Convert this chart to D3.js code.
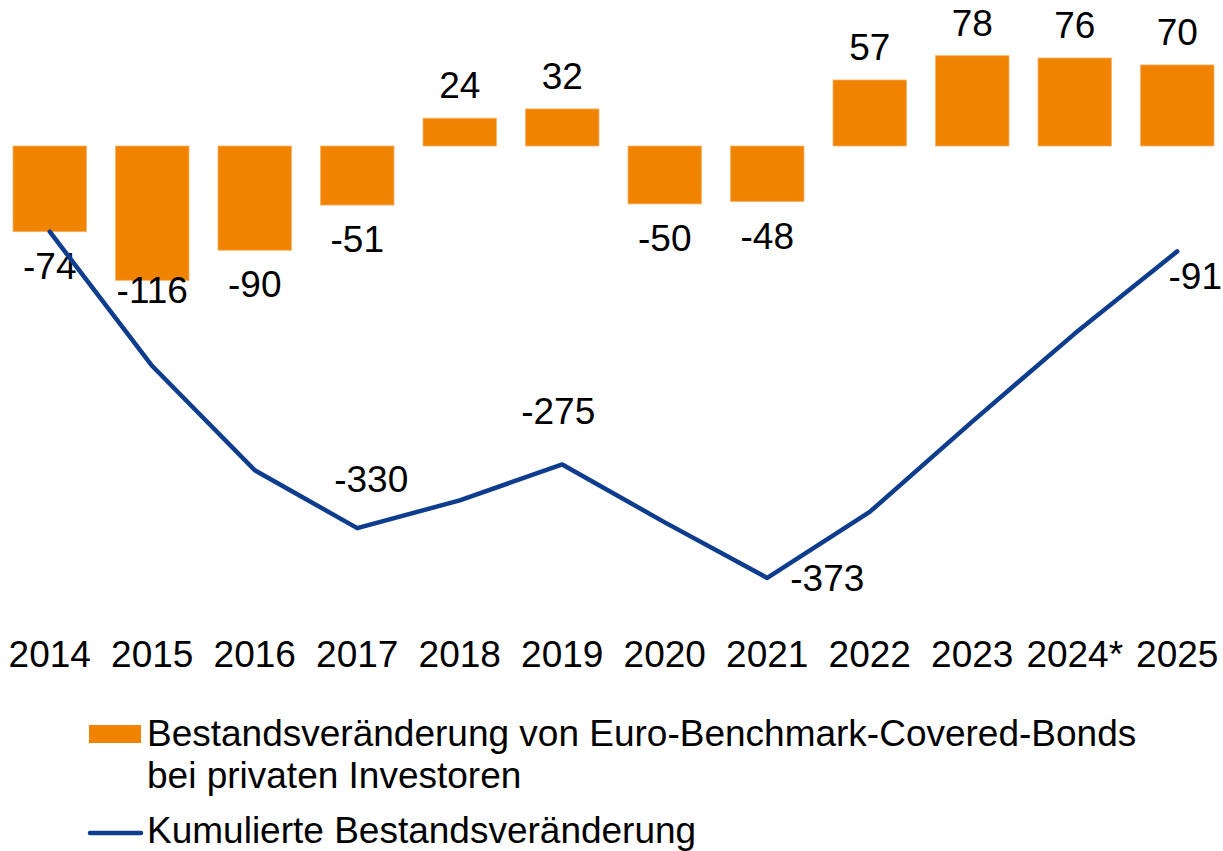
<!DOCTYPE html>
<html>
<head>
<meta charset="utf-8">
<script src="https://cdn.jsdelivr.net/npm/d3@7"></script>
<style>
  body { margin: 0; background: #fff; }
  svg { display: block; font-family: "Liberation Sans", Arial, sans-serif; }
</style>
</head>
<body>
<svg id="chart"></svg>
<script>
// data
var years = ["2014","2015","2016","2017","2018","2019","2020","2021","2022","2023","2024*","2025"];
var changes = [-74, -116, -90, -51, 24, 32, -50, -48, 57, 78, 76, 70];
var cumulative = [-74, -190, -280, -330, -306, -275, -325, -373, -316, -238, -162, -91];
// only some points of the line carry a label
var lineLabelYears = ["2017", "2019", "2021", "2025"];

var legendLabels = [
  ["Bestandsveränderung von Euro-Benchmark-Covered-Bonds", "bei privaten Investoren"],
  ["Kumulierte Bestandsveränderung"]
];

var width = 1223;
var height = 851;
var fontSize = 37;
var orange = "#f08300";
var blue = "#0f3d8e";

var svg = d3.select("#chart")
  .attr("width", width)
  .attr("height", height);

var x = d3.scaleBand()
  .domain(years)
  .range([-16, 1243])
  .padding(0.283);

var y = d3.scaleLinear()
  .domain([-400, 100])
  .range([146 + 400 * 1.158, 146 - 100 * 1.158]);

var barData = years.map(function(d, i) { return { year: d, value: changes[i] }; });
var lineData = years.map(function(d, i) { return { year: d, value: cumulative[i] }; });

// bars
svg.selectAll("rect.bar")
  .data(barData)
  .enter()
  .append("rect")
  .attr("class", "bar")
  .attr("x", function(d) { return x(d.year); })
  .attr("y", function(d) { return y(Math.max(0, d.value)); })
  .attr("width", x.bandwidth())
  .attr("height", function(d) { return Math.abs(y(d.value) - y(0)); })
  .attr("fill", orange)
  .attr("stroke", "#f6b36a")
  .attr("stroke-width", 0.8);

// bar labels
svg.selectAll("text.barlabel")
  .data(barData)
  .enter()
  .append("text")
  .attr("class", "barlabel")
  .attr("x", function(d) { return x(d.year) + x.bandwidth() / 2; })
  .attr("y", function(d) {
    if (d.value >= 0) return y(d.value) - 20;
    // labels are kept inside the upper band of the plot
    return Math.min(y(d.value) + 47, 303);
  })
  .attr("text-anchor", "middle")
  .attr("font-size", fontSize)
  .attr("fill", "#000")
  .text(function(d) { return d.value; });

// cumulative line
var line = d3.line()
  .x(function(d) { return x(d.year) + x.bandwidth() / 2; })
  .y(function(d) { return y(d.value); });

svg.append("path")
  .datum(lineData)
  .attr("d", line)
  .attr("fill", "none")
  .attr("stroke", blue)
  .attr("stroke-width", 4.5)
  .attr("stroke-linejoin", "round")
  .attr("stroke-linecap", "round");

// line labels
var placement = {
  "2017": { dx: 14, dy: -36, anchor: "middle" },
  "2019": { dx: -4, dy: -40, anchor: "middle" },
  "2021": { dx: 23, dy: 13, anchor: "start" },
  "2025": { dx: 45, dy: 38, anchor: "end" }
};

svg.selectAll("text.linelabel")
  .data(lineData.filter(function(d) { return lineLabelYears.indexOf(d.year) >= 0; }))
  .enter()
  .append("text")
  .attr("class", "linelabel")
  .attr("x", function(d) { return Math.min(x(d.year) + x.bandwidth() / 2 + placement[d.year].dx, width - 1); })
  .attr("y", function(d) { return y(d.value) + placement[d.year].dy; })
  .attr("text-anchor", function(d) { return placement[d.year].anchor; })
  .attr("font-size", fontSize)
  .attr("fill", "#000")
  .text(function(d) { return d.value; });

// x axis labels (no axis line)
var xAxis = d3.axisBottom(x).tickSize(0).tickPadding(0);
var axisG = svg.append("g")
  .attr("transform", "translate(0,667)")
  .call(xAxis);
axisG.select(".domain").remove();
axisG.selectAll("text")
  .attr("font-family", "Liberation Sans, Arial, sans-serif")
  .attr("font-size", fontSize)
  .attr("fill", "#000")
  .attr("y", 0)
  .attr("dy", 0);

// legend
var legend = svg.append("g");

legend.append("rect")
  .attr("x", 89)
  .attr("y", 725)
  .attr("width", 52)
  .attr("height", 18)
  .attr("fill", orange);

legend.append("line")
  .attr("x1", 90)
  .attr("x2", 141)
  .attr("y1", 833)
  .attr("y2", 833)
  .attr("stroke", blue)
  .attr("stroke-width", 4.5)
  .attr("stroke-linecap", "round");

var t1 = legend.append("text")
  .attr("x", 147)
  .attr("y", 746)
  .attr("font-size", fontSize)
  .attr("fill", "#000");
t1.selectAll("tspan")
  .data(legendLabels[0])
  .enter()
  .append("tspan")
  .attr("x", 147)
  .attr("dy", function(d, i) { return i === 0 ? 0 : 42; })
  .text(function(d) { return d; });

legend.append("text")
  .attr("x", 147)
  .attr("y", 843)
  .attr("font-size", fontSize)
  .attr("fill", "#000")
  .text(legendLabels[1][0]);
</script>
</body>
</html>
